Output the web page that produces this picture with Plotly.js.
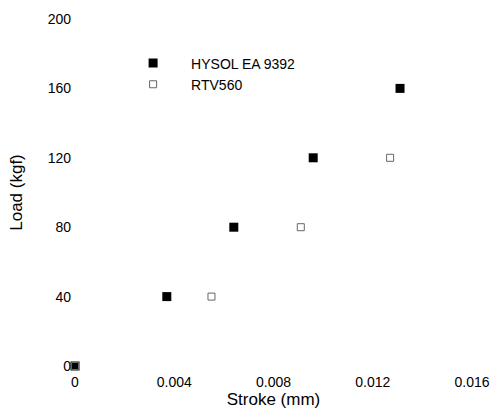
<!DOCTYPE html>
<html>
<head>
<meta charset="utf-8">
<script src="https://cdn.plot.ly/plotly-3.0.1.min.js"></script>
<style>html,body{margin:0;padding:0;background:#fff;}#chart{width:498px;height:414px;}</style>
</head>
<body>
<div id="chart"></div>
<script>
// Data
const hysolStroke = [0, 0.0037, 0.0064, 0.0096, 0.0131];
const hysolLoad   = [0, 40, 80, 120, 160];
const rtvStroke   = [0, 0.0055, 0.0091, 0.0127];
const rtvLoad     = [0, 40, 80, 120];
const xTicks = [0, 0.004, 0.008, 0.012, 0.016];
const xTickText = ['0', '0.004', '0.008', '0.012', '0.016'];
const yTicks = [0, 40, 80, 120, 160, 200];

const fontFam = 'Liberation Sans, Arial, sans-serif';

const traces = [
  {
    x: hysolStroke, y: hysolLoad, name: 'HYSOL EA 9392', legendgroup: 'a',
    type: 'scatter', mode: 'markers', cliponaxis: false,
    marker: {symbol: 'square', size: 9, color: '#000'}
  },
  {
    x: rtvStroke, y: rtvLoad, name: 'RTV560', legendgroup: 'b',
    type: 'scatter', mode: 'markers', cliponaxis: false,
    marker: {symbol: 'square-open', size: 7, color: '#666', line: {width: 1, color: '#666'}}
  }
];

const layout = {
  width: 498, height: 414,
  margin: {l: 75, r: 26, t: 19, b: 48},
  paper_bgcolor: '#fff', plot_bgcolor: '#fff',
  font: {family: fontFam, size: 14, color: '#000'},
  showlegend: true,
  legend: {x: 0.101, y: 0.918, xanchor: 'left', yanchor: 'top', bgcolor: 'rgba(0,0,0,0)',
           itemwidth: 66, traceorder: 'grouped', tracegroupgap: 0,
           font: {family: fontFam, size: 14, color: '#000'}},
  xaxis: {
    range: [0, 0.016], tickvals: xTicks, ticktext: xTickText,
    showgrid: false, zeroline: false, showline: false, ticks: '',
    ticklabelstandoff: 6,
    tickfont: {family: fontFam, size: 14, color: '#000'},
    title: {text: 'Stroke (mm)', font: {family: fontFam, size: 17, color: '#000'}, standoff: 3}
  },
  yaxis: {
    range: [0, 200], tickvals: yTicks,
    showgrid: false, zeroline: false, showline: false, ticks: '',
    ticklabelstandoff: 3,
    tickfont: {family: fontFam, size: 14, color: '#000'},
    title: {text: 'Load (kgf)', font: {family: fontFam, size: 17, color: '#000'}, standoff: 20}
  }
};

Plotly.newPlot('chart', traces, layout, {displayModeBar: false, staticPlot: true});
</script>
</body>
</html>
